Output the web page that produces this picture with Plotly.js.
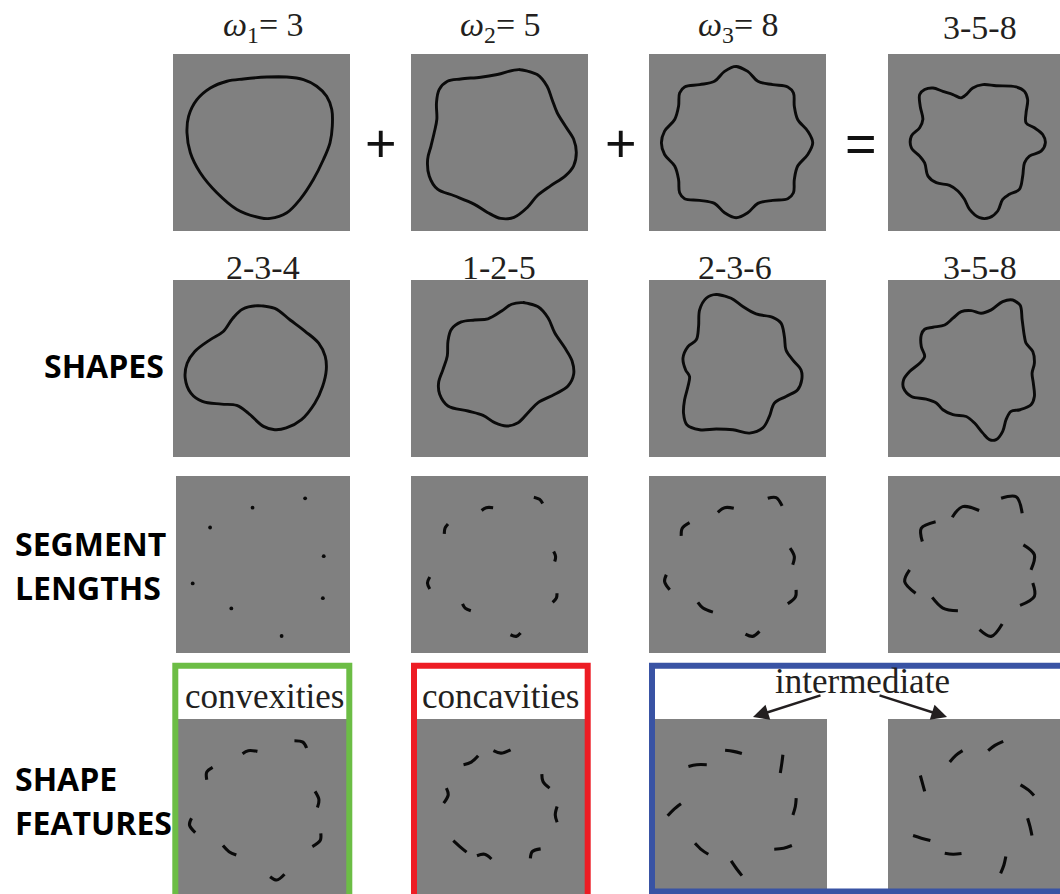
<!DOCTYPE html>
<html><head><meta charset="utf-8">
<script src="https://cdn.plot.ly/plotly-3.0.1.min.js"></script>
<style>body{margin:0;background:#fff;overflow:hidden}#c{width:1060px;height:894px}</style>
</head><body><div id="c"></div>
<script>
// ---------- DATA (panel-relative coordinates, 0..1, y measured downward) ----------
// Row 1: component radial frequencies and their sum
const w1_x = [0.530,0.643,0.737,0.812,0.868,0.897,0.900,0.887,0.850,0.793,0.718,0.643,0.549,0.492,0.361,0.248,0.154,0.098,0.079,0.088,0.135,0.211,0.305,0.398];
const w1_y = [0.130,0.130,0.145,0.182,0.239,0.314,0.408,0.502,0.596,0.709,0.821,0.897,0.929,0.925,0.878,0.784,0.671,0.558,0.445,0.352,0.258,0.192,0.154,0.141];
const w2_x = [0.610,0.713,0.769,0.797,0.826,0.872,0.919,0.934,0.919,0.872,0.788,0.713,0.657,0.582,0.507,0.432,0.356,0.244,0.150,0.103,0.094,0.113,0.131,0.146,0.144,0.159,0.206,0.281,0.394,0.488];
const w2_y = [0.088,0.116,0.182,0.257,0.332,0.407,0.482,0.557,0.632,0.689,0.745,0.801,0.867,0.923,0.929,0.895,0.848,0.801,0.764,0.689,0.595,0.520,0.445,0.370,0.276,0.201,0.154,0.141,0.131,0.116];
const w3_x = [0.492,0.558,0.615,0.699,0.784,0.816,0.821,0.840,0.897,0.925,0.897,0.840,0.821,0.816,0.784,0.699,0.615,0.558,0.492,0.427,0.370,0.286,0.201,0.173,0.167,0.145,0.088,0.070,0.088,0.145,0.167,0.173,0.201,0.286,0.370,0.427];
const w3_y = [0.070,0.098,0.154,0.173,0.186,0.220,0.295,0.370,0.436,0.502,0.568,0.633,0.709,0.784,0.818,0.827,0.844,0.897,0.925,0.897,0.844,0.827,0.818,0.784,0.709,0.633,0.568,0.502,0.436,0.370,0.295,0.220,0.186,0.173,0.154,0.098];
const sum358a_x = [0.414,0.442,0.479,0.536,0.611,0.724,0.771,0.789,0.780,0.780,0.827,0.874,0.889,0.865,0.799,0.771,0.761,0.742,0.686,0.648,0.620,0.573,0.517,0.461,0.432,0.395,0.348,0.273,0.226,0.207,0.179,0.132,0.132,0.179,0.197,0.182,0.179,0.207,0.254,0.310,0.367];
const sum358a_y = [0.248,0.229,0.192,0.173,0.179,0.186,0.211,0.258,0.333,0.389,0.417,0.455,0.502,0.549,0.577,0.615,0.690,0.765,0.793,0.821,0.887,0.925,0.925,0.878,0.821,0.774,0.742,0.727,0.690,0.615,0.577,0.530,0.464,0.417,0.370,0.295,0.229,0.201,0.192,0.211,0.229];

// Row 2: example shapes
const s234_x = [0.478,0.575,0.662,0.748,0.823,0.860,0.866,0.845,0.802,0.726,0.640,0.575,0.511,0.425,0.360,0.274,0.166,0.101,0.069,0.080,0.123,0.209,0.284,0.338,0.392];
const s234_y = [0.145,0.160,0.226,0.291,0.357,0.432,0.508,0.602,0.695,0.789,0.836,0.846,0.827,0.752,0.709,0.701,0.686,0.639,0.555,0.470,0.404,0.338,0.291,0.216,0.165];
const s125_x = [0.633,0.718,0.774,0.812,0.868,0.910,0.919,0.887,0.812,0.718,0.661,0.605,0.539,0.473,0.407,0.322,0.209,0.162,0.156,0.181,0.205,0.209,0.228,0.284,0.360,0.435,0.512,0.568];
const s125_y = [0.128,0.151,0.213,0.298,0.382,0.458,0.533,0.599,0.646,0.693,0.750,0.806,0.825,0.806,0.765,0.740,0.712,0.646,0.580,0.505,0.429,0.345,0.279,0.237,0.226,0.219,0.175,0.137];
const s236_x = [0.380,0.464,0.530,0.605,0.699,0.746,0.765,0.774,0.812,0.859,0.863,0.840,0.774,0.709,0.680,0.643,0.568,0.474,0.380,0.286,0.214,0.195,0.201,0.220,0.229,0.207,0.192,0.220,0.267,0.280,0.286,0.323];
const s236_y = [0.081,0.103,0.150,0.192,0.211,0.244,0.320,0.395,0.451,0.508,0.564,0.620,0.658,0.695,0.771,0.836,0.865,0.846,0.842,0.846,0.818,0.752,0.677,0.602,0.545,0.508,0.442,0.376,0.338,0.263,0.169,0.103];
const s358_x = [0.705,0.746,0.758,0.771,0.780,0.818,0.827,0.814,0.821,0.827,0.808,0.746,0.695,0.667,0.648,0.611,0.573,0.536,0.489,0.442,0.367,0.310,0.273,0.216,0.132,0.088,0.088,0.122,0.179,0.207,0.188,0.188,0.207,0.254,0.320,0.367,0.414,0.470,0.526,0.583,0.648];
const s358_y = [0.113,0.141,0.226,0.320,0.357,0.404,0.470,0.526,0.583,0.658,0.705,0.733,0.742,0.789,0.855,0.902,0.902,0.865,0.808,0.771,0.761,0.733,0.695,0.673,0.658,0.611,0.564,0.517,0.470,0.432,0.376,0.310,0.278,0.267,0.254,0.216,0.179,0.173,0.188,0.169,0.122];

// Row 3: segment lengths (3 points per segment, null separates segments)
const dots_x = [0.742,0.440,0.196,0.849,0.096,0.844,0.318,0.607];
const dots_y = [0.126,0.179,0.291,0.453,0.607,0.690,0.748,0.904];
const segS_x = [0.694,0.726,0.744,null,0.399,0.425,0.464,null,0.188,0.192,0.209,null,0.806,0.817,0.812,null,0.106,0.093,0.106,null,0.825,0.821,0.800,null,0.291,0.306,0.338,null,0.562,0.595,0.619];
const segS_y = [0.120,0.132,0.155,null,0.195,0.179,0.179,null,0.327,0.295,0.271,null,0.427,0.455,0.483,null,0.571,0.605,0.639,null,0.662,0.690,0.714,null,0.722,0.746,0.761,null,0.897,0.906,0.887];
const segM_x = [0.671,0.718,0.752,null,0.389,0.427,0.479,null,0.182,0.188,0.229,null,0.797,0.821,0.812,null,0.098,0.088,0.117,null,0.831,0.827,0.784,null,0.276,0.305,0.361,null,0.545,0.586,0.624];
const segM_y = [0.126,0.122,0.169,null,0.205,0.179,0.182,null,0.338,0.295,0.263,null,0.408,0.455,0.502,null,0.558,0.596,0.643,null,0.643,0.684,0.722,null,0.714,0.746,0.769,null,0.893,0.906,0.878];
const segL_x = [0.639,0.724,0.758,null,0.363,0.421,0.515,null,0.194,0.188,0.269,null,0.765,0.827,0.808,null,0.122,0.094,0.156,null,0.818,0.827,0.746,null,0.250,0.310,0.395,null,0.517,0.583,0.645];
const segL_y = [0.126,0.117,0.211,null,0.233,0.173,0.195,null,0.370,0.295,0.258,null,0.389,0.445,0.530,null,0.530,0.596,0.662,null,0.605,0.680,0.731,null,0.686,0.746,0.761,null,0.868,0.906,0.836];

// Row 4: shape features
const convex_x = [0.689,0.739,0.761,null,0.382,0.416,0.470,null,0.170,0.170,0.205,null,0.811,0.834,0.825,null,0.080,0.068,0.102,null,0.845,0.841,0.795,null,0.266,0.302,0.345,null,0.545,0.584,0.630];
const convex_y = [0.124,0.132,0.166,null,0.198,0.181,0.185,null,0.347,0.304,0.277,null,0.414,0.462,0.506,null,0.567,0.605,0.649,null,0.653,0.695,0.729,null,0.723,0.758,0.777,null,0.901,0.920,0.887];
const concav_x = [0.743,0.750,0.789,null,0.455,0.500,0.557,null,0.277,0.323,0.364,null,0.175,0.186,0.159,null,0.834,0.823,0.834,null,0.675,0.686,0.736,null,0.216,0.255,0.295,null,0.357,0.402,0.443];
const concav_y = [0.315,0.357,0.395,null,0.181,0.195,0.176,null,0.261,0.246,0.210,null,0.395,0.433,0.481,null,0.500,0.548,0.590,null,0.796,0.758,0.742,null,0.695,0.729,0.761,null,0.781,0.773,0.800];
const interA_x = [0.411,0.459,0.508,null,0.199,0.247,0.305,null,0.745,0.739,0.730,null,0.079,0.112,0.156,null,0.822,0.817,0.803,null,0.237,0.276,0.314,null,0.695,0.749,0.797,null,0.446,0.475,0.508];
const interA_y = [0.179,0.185,0.197,null,0.271,0.261,0.261,null,0.204,0.252,0.309,null,0.553,0.519,0.485,null,0.452,0.500,0.548,null,0.710,0.748,0.773,null,0.744,0.739,0.723,null,0.811,0.853,0.895];
const interB_x = [0.579,0.618,0.666,null,0.357,0.392,0.431,null,0.187,0.199,0.212,null,0.766,0.811,0.844,null,0.807,0.821,0.832,null,0.145,0.193,0.245,null,0.328,0.376,0.425,null,0.681,0.670,0.651];
const interB_y = [0.181,0.151,0.128,null,0.246,0.208,0.181,null,0.323,0.366,0.414,null,0.376,0.405,0.437,null,0.567,0.615,0.666,null,0.666,0.681,0.695,null,0.767,0.773,0.769,null,0.786,0.834,0.882];

// Labels
const topLabels = ['<i>ω</i><sub>1</sub>= 3', '<i>ω</i><sub>2</sub>= 5', '<i>ω</i><sub>3</sub>= 8', '3-5-8'];
const row2Labels = ['2-3-4', '1-2-5', '2-3-6', '3-5-8'];
const operators = ['+', '+', '='];
const featureLabels = ['convexities', 'concavities', 'intermediate'];
const rowLabels = ['SHAPES', 'SEGMENT', 'LENGTHS', 'SHAPE', 'FEATURES'];

// ---------- BUILD ----------
const W = 1060, H = 894;
const data = [];
const layout = {
  width: W, height: H, margin: {l:0, r:0, t:0, b:0},
  paper_bgcolor: '#ffffff', plot_bgcolor: '#808080',
  showlegend: false, dragmode: false,
  annotations: [], shapes: []
};
let pIdx = 0;
function closed(a){ return a.concat([a[0], a[1]]); }
function contour(xs, ys){
  return {x: closed(xs), y: closed(ys), type:'scatter', mode:'lines',
    line:{color:'#0a0a0a', width:2.9, shape:'spline', smoothing:1}, hoverinfo:'skip'};
}
function segs(xs, ys){
  return {x: xs, y: ys, type:'scatter', mode:'lines', connectgaps:false,
    line:{color:'#0a0a0a', width:3.1, shape:'spline', smoothing:1}, hoverinfo:'skip'};
}
function dotTrace(xs, ys){
  return {x: xs, y: ys, type:'scatter', mode:'markers',
    marker:{color:'#0a0a0a', size:3.8}, hoverinfo:'skip'};
}
function panel(px0, px1, py0, py1, traces){
  pIdx++;
  const n = pIdx === 1 ? '' : String(pIdx);
  const vx1 = Math.min(px1, W), vy1 = Math.min(py1, H);
  const xr = (vx1 - px0) / (px1 - px0);
  const yr = (vy1 - py0) / (py1 - py0);
  layout['xaxis' + n] = {domain:[px0 / W, vx1 / W], range:[0, xr], visible:false, fixedrange:true, anchor:'y' + n};
  layout['yaxis' + n] = {domain:[1 - vy1 / H, 1 - py0 / H], range:[yr, 0], visible:false, fixedrange:true, anchor:'x' + n};
  traces.forEach(t => { t.xaxis = 'x' + n; t.yaxis = 'y' + n; data.push(t); });
}

const cols = [[173,350],[411,588],[649,826],[888,1065]];
// Row 1
panel(cols[0][0], cols[0][1], 54, 231, [contour(w1_x, w1_y)]);
panel(cols[1][0], cols[1][1], 54, 231, [contour(w2_x, w2_y)]);
panel(cols[2][0], cols[2][1], 54, 231, [contour(w3_x, w3_y)]);
panel(cols[3][0], cols[3][1], 54, 231, [contour(sum358a_x, sum358a_y)]);
// Row 2
panel(cols[0][0], cols[0][1], 280, 457, [contour(s234_x, s234_y)]);
panel(cols[1][0], cols[1][1], 280, 457, [contour(s125_x, s125_y)]);
panel(cols[2][0], cols[2][1], 280, 457, [contour(s236_x, s236_y)]);
panel(cols[3][0], cols[3][1], 280, 457, [contour(s358_x, s358_y)]);
// Row 3
panel(176, 350, 476, 653, [dotTrace(dots_x, dots_y)]);
panel(cols[1][0], cols[1][1], 476, 653, [segs(segS_x, segS_y)]);
panel(cols[2][0], cols[2][1], 476, 653, [segs(segM_x, segM_y)]);
panel(cols[3][0], cols[3][1], 476, 653, [segs(segL_x, segL_y)]);
// Row 4
panel(178, 347, 719, 894, [segs(convex_x, convex_y)]);
panel(417, 585, 719, 894, [segs(concav_x, concav_y)]);
panel(654, 827, 719, 894, [segs(interA_x, interA_y)]);
panel(888, 1061, 719, 894, [segs(interB_x, interB_y)]);

// ---------- TEXT ----------
const serif = 'Liberation Serif, Times New Roman, serif';
const sans = 'Liberation Sans, Arial, sans-serif';
const bold = 'Open Sans, sans-serif';
const ink = '#231f20';
function ann(text, px, py, size, family, extra){
  const a = Object.assign({text:text, x:px / W, y:1 - py / H, xref:'paper', yref:'paper',
    showarrow:false, xanchor:'center', yanchor:'middle',
    font:{family:family, size:size, color:ink}}, extra || {});
  layout.annotations.push(a);
}
const topCx = [263, 500, 738, 980];
topLabels.forEach((t, i) => ann(t, topCx[i], 27, 34, serif));
const r2Cx = [263, 499, 735, 980];
row2Labels.forEach((t, i) => ann(t, r2Cx[i], 267, 34, serif));
const opX = [381, 621, 861];
operators.forEach((t, i) => ann(t, opX[i], 143, 54, sans, {font:{family:sans, size:54, color:'#111'}}));

const lab = {family:bold, size:32, color:'#000', weight:700};
const labPos = [[42, 366], [13, 543], [13, 587], [13, 778], [13, 822]];
rowLabels.forEach((t, i) => ann(t, labPos[i][0], labPos[i][1], 32, bold, {xanchor:'left', font:lab}));

ann(featureLabels[0], 264, 696, 35, serif);
ann(featureLabels[1], 500, 696, 35, serif);
ann(featureLabels[2], 862, 681, 35, serif);

// arrows from "intermediate" to the two panels
[[753, 717, 69], [947, 717, -69]].forEach(a => {
  layout.annotations.push({x:a[0] / W, y:1 - a[1] / H, xref:'paper', yref:'paper', text:'',
    showarrow:true, ax:a[2], ay:-22, axref:'pixel', ayref:'pixel',
    arrowhead:2, arrowsize:1.3, arrowwidth:2.4, arrowcolor:ink});
});

// ---------- FRAMES ----------
function frame(x0, x1, y0, y1, color){
  layout.shapes.push({type:'rect', xref:'paper', yref:'paper',
    x0:x0 / W, x1:x1 / W, y0:1 - y1 / H, y1:1 - y0 / H,
    line:{color:color, width:6}, fillcolor:'rgba(0,0,0,0)', layer:'above'});
}
frame(175.3, 349.3, 665.7, 910, '#6cbd45');
frame(414, 587.7, 665.7, 910, '#ed1c24');
frame(652, 1075, 665.7, 891.5, '#3953a4');

Plotly.newPlot('c', data, layout, {staticPlot:true, displayModeBar:false});
</script>
</body></html>
